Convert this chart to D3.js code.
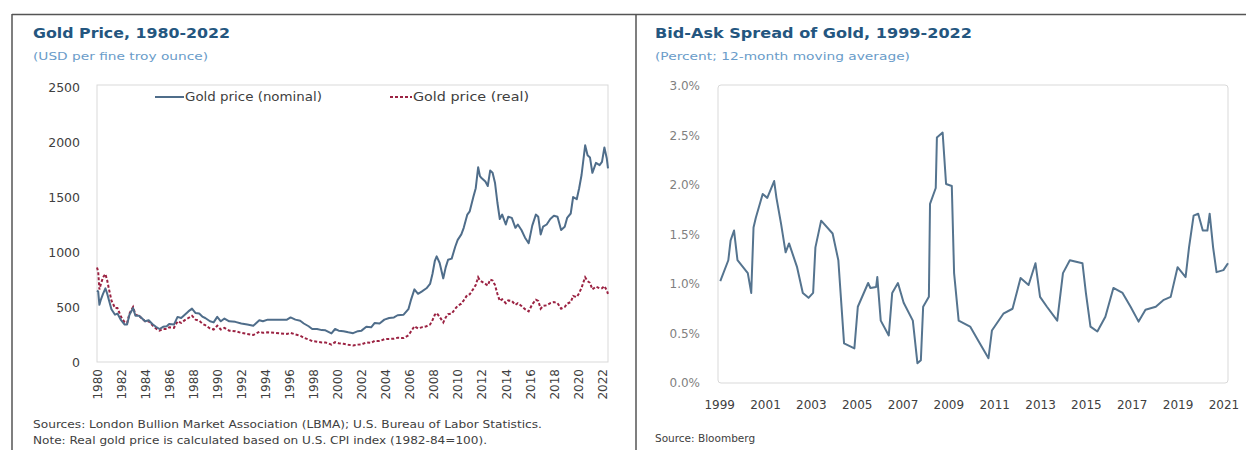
<!DOCTYPE html>
<html>
<head>
<meta charset="utf-8">
<script src="https://cdn.jsdelivr.net/npm/d3@7"></script>
<style>
  html, body { margin: 0; padding: 0; background: #fff; }
  svg { display: block; font-family: "DejaVu Sans", "Open Sans", sans-serif; }
</style>
</head>
<body>
<svg id="chart" width="1246" height="450"></svg>
<script>
// Gold price, USD per fine troy ounce (nominal and real, 1982-84 dollars)
const goldYears = [1980.0,1980.1,1980.2,1980.3,1980.5,1980.7,1980.85,1981.0,1981.2,1981.5,1981.7,1982.0,1982.3,1982.5,1982.7,1983.0,1983.2,1983.5,1983.8,1984.0,1984.3,1984.6,1984.9,1985.2,1985.5,1985.8,1986.0,1986.4,1986.7,1987.0,1987.3,1987.6,1987.9,1988.2,1988.5,1988.8,1989.0,1989.4,1989.7,1990.0,1990.3,1990.6,1991.0,1991.5,1992.0,1992.5,1993.0,1993.5,1993.8,1994.2,1994.8,1995.3,1995.8,1996.1,1996.5,1996.9,1997.2,1997.6,1997.9,1998.3,1998.7,1999.0,1999.5,1999.8,2000.1,2000.5,2000.9,2001.3,2001.7,2002.0,2002.4,2002.8,2003.1,2003.5,2003.9,2004.3,2004.7,2005.0,2005.5,2005.9,2006.1,2006.4,2006.7,2007.0,2007.4,2007.7,2007.9,2008.1,2008.25,2008.5,2008.8,2009.0,2009.2,2009.5,2009.8,2010.0,2010.3,2010.5,2010.8,2011.0,2011.3,2011.5,2011.7,2011.85,2012.0,2012.3,2012.5,2012.7,2012.9,2013.1,2013.3,2013.5,2013.7,2014.0,2014.2,2014.5,2014.8,2015.0,2015.3,2015.6,2015.9,2016.2,2016.5,2016.7,2016.9,2017.1,2017.4,2017.7,2018.0,2018.3,2018.6,2018.9,2019.1,2019.4,2019.6,2019.9,2020.1,2020.3,2020.6,2020.8,2021.0,2021.2,2021.5,2021.8,2022.0,2022.2,2022.4,2022.5];
const goldNominal = [650,640,520,560,620,670,620,560,480,430,440,380,340,340,430,490,420,420,390,370,380,345,320,300,320,325,345,340,410,400,430,460,485,445,440,410,400,370,360,410,370,395,370,365,350,340,330,380,370,385,385,385,385,405,385,375,350,325,300,300,290,288,260,300,285,280,270,262,280,285,320,315,355,350,385,400,405,425,430,480,560,660,620,640,670,710,800,920,960,900,760,860,930,940,1050,1110,1160,1220,1340,1370,1500,1580,1770,1690,1670,1640,1600,1740,1720,1630,1450,1300,1340,1250,1320,1310,1220,1250,1200,1130,1080,1240,1340,1320,1160,1230,1250,1300,1330,1320,1200,1230,1310,1350,1500,1480,1580,1700,1970,1880,1860,1720,1810,1790,1820,1950,1850,1760];
const goldReal = [860,820,660,700,770,800,740,660,560,490,490,410,360,355,440,500,430,420,390,370,370,335,305,285,300,300,315,310,370,355,380,400,420,385,375,345,335,305,295,330,295,310,285,280,265,255,245,275,265,270,265,260,255,265,250,240,220,205,190,185,178,178,158,180,170,165,157,150,158,160,178,174,193,190,207,210,212,220,218,243,275,325,305,315,325,340,380,430,445,410,360,405,435,440,485,510,530,560,610,615,665,700,770,740,730,710,695,750,740,700,620,555,570,535,560,555,520,535,510,480,460,525,565,555,485,510,515,535,545,535,485,500,530,545,600,590,625,675,770,735,720,660,685,670,670,690,650,620];
const goldTickYears = d3.range(1980, 2023, 2);
const goldYTicks = [0, 500, 1000, 1500, 2000, 2500];
const goldSeriesNames = ["Gold price (nominal)", "Gold price (real)"];

// Bid-ask spread of gold, percent, 12-month moving average
const spreadYears = [1999.05,1999.4,1999.5,1999.65,1999.8,2000.25,2000.4,2000.5,2000.6,2000.9,2001.1,2001.4,2001.5,2001.7,2001.9,2002.05,2002.4,2002.65,2002.9,2003.1,2003.2,2003.45,2003.95,2004.2,2004.45,2004.9,2005.05,2005.5,2005.6,2005.85,2005.9,2006.05,2006.4,2006.55,2006.8,2007.05,2007.45,2007.65,2007.8,2007.9,2008.15,2008.2,2008.45,2008.5,2008.75,2008.9,2009.15,2009.25,2009.45,2009.95,2010.3,2010.75,2010.9,2011.4,2011.8,2012.15,2012.5,2012.8,2013.0,2013.3,2013.75,2014.0,2014.3,2014.85,2015.0,2015.2,2015.5,2015.85,2016.2,2016.6,2016.95,2017.3,2017.6,2018.05,2018.4,2018.7,2019.0,2019.35,2019.5,2019.7,2019.9,2020.1,2020.3,2020.4,2020.55,2020.7,2021.0,2021.2];
const spreadValues = [1.03,1.24,1.44,1.54,1.24,1.11,0.91,1.57,1.67,1.91,1.87,2.04,1.87,1.61,1.32,1.41,1.17,0.91,0.86,0.91,1.37,1.64,1.51,1.24,0.40,0.35,0.77,1.01,0.96,0.97,1.07,0.63,0.48,0.91,1.01,0.81,0.63,0.20,0.23,0.77,0.87,1.81,1.97,2.48,2.53,2.01,1.99,1.11,0.63,0.57,0.43,0.25,0.53,0.70,0.75,1.06,0.99,1.21,0.87,0.77,0.63,1.11,1.24,1.21,0.91,0.57,0.52,0.67,0.96,0.91,0.77,0.62,0.74,0.77,0.84,0.87,1.17,1.07,1.37,1.69,1.71,1.54,1.54,1.71,1.37,1.12,1.14,1.21];
const spreadTickYears = d3.range(1999, 2022, 2);
const spreadYTicks = [0, 0.5, 1.0, 1.5, 2.0, 2.5, 3.0];

const svg = d3.select("#chart");
const titleColor = "#24567f";
const subColor = "#6a9cc9";
const textColor = "#404040";
const frameColor = "#d9d9d9";
const nominalColor = "#4f6d8a";
const realColor = "#9b2242";

// Text helper: optional fixed run length keeps a label the width of its layout slot
function label(x, y, str, size, width, opts = {}) {
  const t = svg.append("text").attr("x", x).attr("y", y).text(str)
    .attr("font-size", size).attr("fill", opts.fill || textColor);
  if (opts.bold) t.attr("font-weight", "bold");
  if (width) t.attr("textLength", width).attr("lengthAdjust", "spacingAndGlyphs");
  return t;
}

// Outer panel borders
svg.append("line").attr("x1", 12).attr("x2", 1246).attr("y1", 14.5).attr("y2", 14.5)
  .attr("stroke", "#555").attr("stroke-width", 1.5);
svg.append("line").attr("x1", 12).attr("x2", 12).attr("y1", 14).attr("y2", 450)
  .attr("stroke", "#555").attr("stroke-width", 1.5);
svg.append("line").attr("x1", 636).attr("x2", 636).attr("y1", 14).attr("y2", 450)
  .attr("stroke", "#555").attr("stroke-width", 1.5);

// ---------- Left panel: gold price ----------
const L = { left: 97, right: 608, top: 85, bottom: 362 };
const gx = d3.scaleLinear().domain([1980, 2022.5]).range([L.left, L.right]);
const gy = d3.scaleLinear().domain([0, 2500]).range([L.bottom, 87]);

label(33, 38, "Gold Price, 1980-2022", 14, 197, { bold: true, fill: titleColor });
label(33, 60, "(USD per fine troy ounce)", 10.5, 175, { fill: subColor });

svg.append("rect").attr("x", L.left).attr("y", L.top).attr("width", L.right - L.left)
  .attr("height", L.bottom - L.top).attr("fill", "none").attr("stroke", frameColor);

const gAxisY = svg.append("g").attr("transform", `translate(${L.left - 14},0)`)
  .call(d3.axisLeft(gy).tickValues(goldYTicks).tickSize(0).tickFormat(d3.format("d")));
gAxisY.select(".domain").remove();
gAxisY.selectAll("text").attr("font-size", 12.5).attr("fill", textColor)
  .attr("font-family", "'DejaVu Sans', sans-serif");

const gAxisX = svg.append("g").attr("transform", `translate(0,${L.bottom})`)
  .call(d3.axisBottom(gx).tickValues(goldTickYears).tickSize(0).tickFormat(d3.format("d")));
gAxisX.select(".domain").remove();
gAxisX.selectAll("text")
  .attr("font-size", 12).attr("fill", textColor).attr("font-family", "'DejaVu Sans', sans-serif")
  .attr("transform", "rotate(-90)").attr("text-anchor", "end")
  .attr("x", -7).attr("y", 0).attr("dy", "0.35em");

const goldLine = (vals) => d3.line().x((d, i) => gx(goldYears[i])).y(d => gy(d))(vals);
svg.append("path").attr("d", goldLine(goldReal)).attr("fill", "none")
  .attr("stroke", realColor).attr("stroke-width", 2).attr("stroke-dasharray", "3,2");
svg.append("path").attr("d", goldLine(goldNominal)).attr("fill", "none")
  .attr("stroke", nominalColor).attr("stroke-width", 2).attr("stroke-linejoin", "round");

// Legend
svg.append("line").attr("x1", 155).attr("x2", 184).attr("y1", 97).attr("y2", 97)
  .attr("stroke", nominalColor).attr("stroke-width", 2);
label(185, 101, goldSeriesNames[0], 11.5, 137);
svg.append("line").attr("x1", 390).attr("x2", 412).attr("y1", 97).attr("y2", 97)
  .attr("stroke", realColor).attr("stroke-width", 2).attr("stroke-dasharray", "3,2");
label(413, 101, goldSeriesNames[1], 11.5, 116);

label(33, 428, "Sources: London Bullion Market Association (LBMA); U.S. Bureau of Labor Statistics.", 10.5, 509);
label(33, 444, "Note: Real gold price is calculated based on U.S. CPI index (1982-84=100).", 10.5, 454);

// ---------- Right panel: bid-ask spread ----------
const R = { left: 718, right: 1228, top: 85, bottom: 383 };
const sx = d3.scaleLinear().domain([1998.95, 2021.2]).range([R.left, R.right]);
const sy = d3.scaleLinear().domain([0, 3]).range([R.bottom, 86]);

label(655, 38, "Bid-Ask Spread of Gold, 1999-2022", 14, 317, { bold: true, fill: titleColor });
label(655, 60, "(Percent; 12-month moving average)", 10.5, 255, { fill: subColor });

svg.append("rect").attr("x", R.left).attr("y", R.top).attr("width", R.right - R.left)
  .attr("height", R.bottom - R.top).attr("rx", 3).attr("fill", "none").attr("stroke", frameColor);

const sAxisY = svg.append("g").attr("transform", `translate(${R.left - 15},0)`)
  .call(d3.axisLeft(sy).tickValues(spreadYTicks).tickSize(0).tickFormat(d => d.toFixed(1) + "%"));
sAxisY.select(".domain").remove();
sAxisY.selectAll("text").attr("font-size", 12).attr("fill", "#7f7f7f")
  .attr("font-family", "'DejaVu Sans', sans-serif");

const sAxisX = svg.append("g").attr("transform", `translate(0,${R.bottom + 14})`)
  .call(d3.axisBottom(sx).tickValues(spreadTickYears).tickSize(0).tickFormat(d3.format("d")));
sAxisX.select(".domain").remove();
sAxisX.selectAll("text").attr("font-size", 12).attr("fill", textColor)
  .attr("font-family", "'DejaVu Sans', sans-serif");

const spreadLine = d3.line().x((d, i) => sx(spreadYears[i])).y(d => sy(d));
svg.append("path").attr("d", spreadLine(spreadValues)).attr("fill", "none")
  .attr("stroke", "#55748f").attr("stroke-width", 2).attr("stroke-linejoin", "round");

label(655, 442, "Source: Bloomberg", 10.5, null);
</script>
</body>
</html>
